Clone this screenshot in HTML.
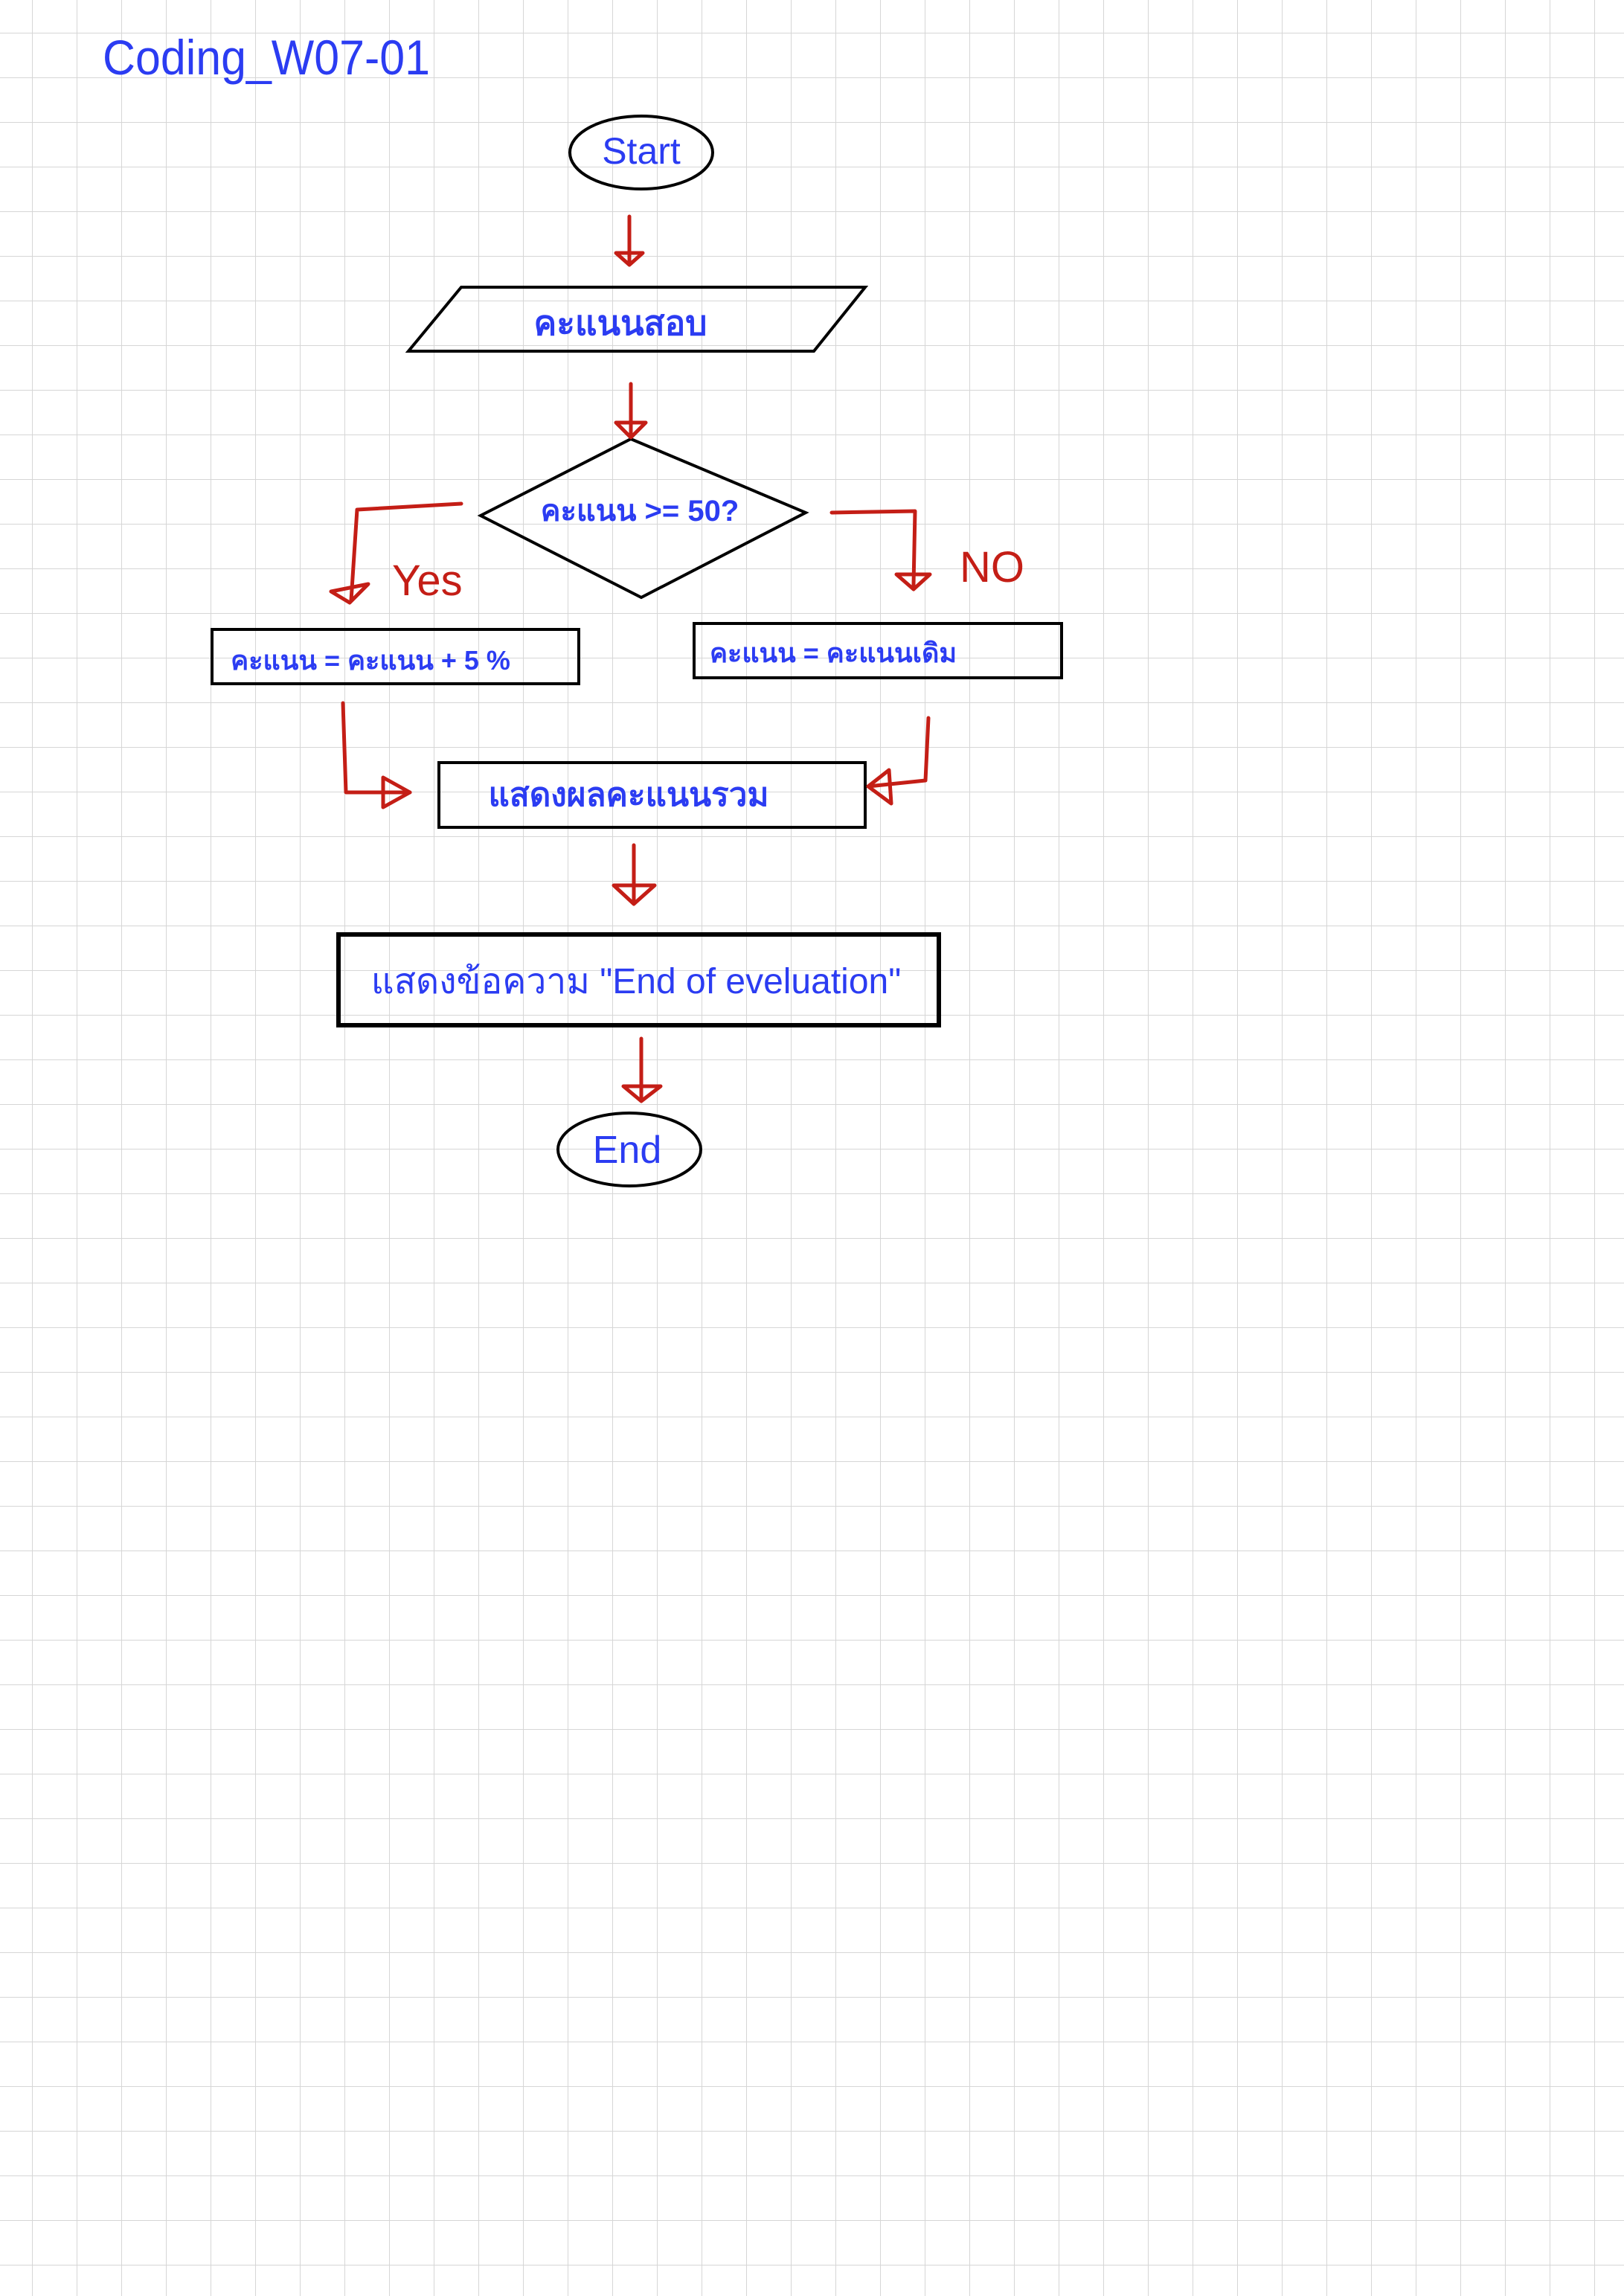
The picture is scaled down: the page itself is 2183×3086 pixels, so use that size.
<!DOCTYPE html>
<html><head><meta charset="utf-8"><style>
html,body{margin:0;padding:0;background:#fff}
svg{display:block}
text{font-family:"Liberation Sans","Noto Sans CJK SC",sans-serif}
</style></head><body>
<svg width="2183" height="3086" viewBox="0 0 2183 3086" xmlns="http://www.w3.org/2000/svg">
<defs>
<pattern id="g" x="43" y="44" width="60" height="60" patternUnits="userSpaceOnUse">
<path d="M0 0V60M0 0H60" stroke="#d6d6d6" stroke-width="2" fill="none"/>
</pattern>
</defs>
<rect width="2183" height="3086" fill="#fff"/>
<rect width="2183" height="3086" fill="url(#g)"/>

<text x="138" y="100" font-size="66" fill="#2b3cf2" textLength="440" lengthAdjust="spacingAndGlyphs">Coding_W07-01</text>

<g fill="none" stroke="#000" stroke-width="4">
<ellipse cx="862" cy="205" rx="96" ry="49"/>
<polygon points="620,386 1163,386 1094,472 549,472"/>
<polygon points="848,590 1083,689 862,803 646,693"/>
<rect x="285" y="846" width="493" height="73"/>
<rect x="933" y="838" width="494" height="73"/>
<rect x="590" y="1025" width="573" height="87"/>
<rect x="455" y="1256" width="807" height="122" stroke-width="6"/>
<ellipse cx="846" cy="1545" rx="96" ry="49"/>
</g>

<g fill="none" stroke="#c41e16" stroke-width="5" stroke-linecap="round" stroke-linejoin="round">
<path d="M846 291V354"/><path d="M828 340L864 340L846 356Z"/>
<path d="M848 516V587"/><path d="M828 568L868 568L848 588Z"/>
<path d="M620 677L480 685L472 807"/><path d="M445 795L495 785L470 810Z"/>
<path d="M1118 689L1230 687L1228 787"/><path d="M1205 772L1250 772L1228 792Z"/>
<path d="M461 945L465 1065L551 1065"/><path d="M515 1045L551 1065L515 1085Z"/>
<path d="M1248 965L1244 1049L1167 1057"/><path d="M1195 1035L1167 1057L1198 1080Z"/>
<path d="M852 1136V1213"/><path d="M825 1190L880 1190L852 1215Z"/>
<path d="M862 1396V1478"/><path d="M838 1460L888 1460L862 1480Z"/>
</g>

<g fill="#c41e16" font-size="58">
<text x="527" y="800">Yes</text>
<text x="1290" y="782">NO</text>
</g>

<g fill="#2b3cf2" text-anchor="middle" font-weight="bold">
<text x="862" y="220" font-size="50" font-weight="normal">Start</text>
<text x="834" y="450" font-size="46">คะแนนสอบ</text>
<text x="860" y="700" font-size="40">คะแนน &gt;= 50?</text>
<text x="498" y="900" font-size="36">คะแนน = คะแนน + 5 %</text>
<text x="1120" y="890" font-size="36">คะแนน = คะแนนเดิม</text>
<text x="845" y="1083" font-size="44">แสดงผลคะแนนรวม</text>
<text x="855" y="1335" font-size="48" font-weight="normal">แสดงข้อความ "End of eveluation"</text>
<text x="843" y="1563" font-size="52" font-weight="normal">End</text>
</g>
</svg>
</body></html>
